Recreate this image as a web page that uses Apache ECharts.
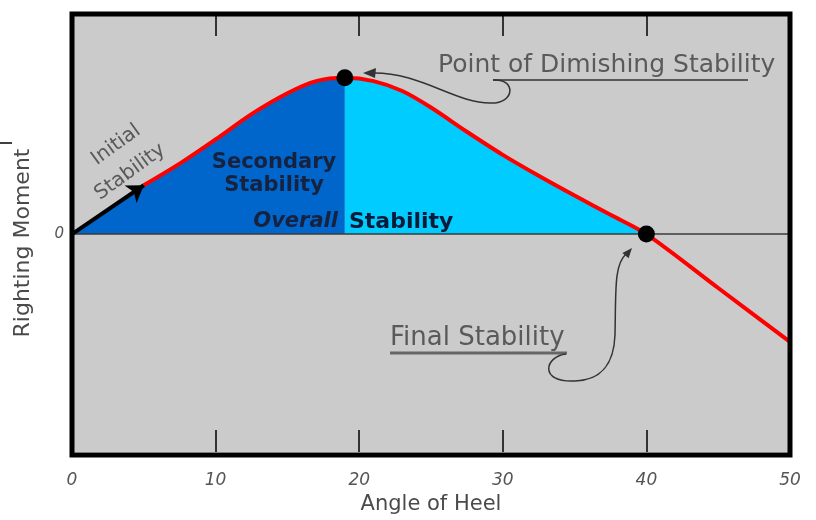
<!DOCTYPE html>
<html>
<head>
<meta charset="utf-8">
<script src="https://cdn.jsdelivr.net/npm/echarts@6/dist/echarts.min.js"></script>
<style>
  html, body { margin: 0; padding: 0; background: #fff; }
  #chart { width: 816px; height: 520px; }
</style>
</head>
<body>
<div id="chart"></div>
<script>
// angle of heel (deg) and righting moment (relative units)
const angles  = [0, 2.5, 5, 7.5, 10, 12.5, 15, 17, 19, 21, 23, 25, 27.5, 30, 32.5, 35, 37.5, 40, 45, 50];
const moments = [0, 0.11, 0.222, 0.32, 0.43, 0.545, 0.64, 0.695, 0.71, 0.695, 0.65, 0.575, 0.465, 0.36, 0.265, 0.175, 0.088, 0, -0.245, -0.49];

const peakAngle = 19;      // point of diminishing stability
const vanishAngle = 40;    // final stability
const initialEnd = 5;      // end of initial stability arrow

const xTickLabels = ['0', '10', '20', '30', '40', '50'];

const pairs = angles.map((a, i) => [a, moments[i]]);
const darkArea = pairs.filter(p => p[0] <= peakAngle);
const lightArea = pairs.filter(p => p[0] >= peakAngle && p[0] <= vanishAngle);
const redCurve = pairs.filter(p => p[0] >= initialEnd);
const keyPoints = pairs.filter(p => p[0] === peakAngle || p[0] === vanishAngle);
const arrowFrom = pairs[0];
const arrowTo = pairs.find(p => p[0] === initialEnd);

const chart = echarts.init(document.getElementById('chart'));

const annoColor = '#5a5a5a';
const annoFont = 'DejaVu Sans';
const smoothness = 0.3;

const option = {
    animation: false,
    grid: {
        left: 72, right: 26, top: 14, bottom: 65,
        show: true,
        backgroundColor: '#cbcbcb',
        borderWidth: 0
    },
    xAxis: [
        {
            type: 'value', min: 0, max: 50, interval: 10,
            position: 'bottom',
            axisLine: { show: false, onZero: false },
            axisTick: { show: true, inside: true, length: 22, lineStyle: { color: '#333', width: 2 } },
            splitLine: { show: false },
            axisLabel: {
                color: '#555', fontSize: 17, fontStyle: 'italic', fontFamily: annoFont, margin: 20,
                formatter: v => xTickLabels[Math.round(v / 10)]
            },
            name: 'Angle of Heel',
            nameLocation: 'middle',
            nameGap: 42,
            nameTextStyle: { color: '#4a4a4a', fontSize: 21, fontFamily: annoFont }
        },
        {
            type: 'value', min: 0, max: 50, interval: 10,
            position: 'top',
            axisLine: { show: false, onZero: false },
            axisTick: { show: true, inside: true, length: 22, lineStyle: { color: '#333', width: 2 } },
            splitLine: { show: false },
            axisLabel: { show: false }
        }
    ],
    yAxis: {
        type: 'value', min: -0.99, max: 1,
        axisLine: { show: false },
        axisTick: { show: false },
        splitLine: { show: false },
        axisLabel: {
            color: '#555', fontSize: 15, fontStyle: 'italic', fontFamily: annoFont, margin: 8,
            formatter: v => (v === 0 ? '0' : '')
        },
        name: 'Righting Moment',
        nameLocation: 'middle',
        nameGap: 38,
        nameTextStyle: { color: '#4a4a4a', fontSize: 22, fontFamily: annoFont, padding: [0, 20, 0, 0] }
    },
    series: [
        {
            name: 'Secondary', type: 'line', data: darkArea, smooth: smoothness,
            symbol: 'none', lineStyle: { width: 0 },
            areaStyle: { color: '#0066cc', opacity: 1 }, z: 2
        },
        {
            name: 'Overall', type: 'line', data: lightArea, smooth: smoothness,
            symbol: 'none', lineStyle: { width: 0 },
            areaStyle: { color: '#00ccff', opacity: 1 }, z: 2,
            markLine: {
                silent: true, symbol: 'none', label: { show: false },
                lineStyle: { color: '#3a3a3a', width: 1.5, type: 'solid' },
                data: [{ yAxis: 0 }]
            }
        },
        {
            name: 'Righting arm', type: 'line', data: redCurve, smooth: smoothness,
            symbol: 'none', lineStyle: { color: '#ff0000', width: 4 }, z: 4
        },
        {
            name: 'Initial', type: 'line', data: [], z: 5,
            markLine: {
                silent: true, symbol: ['none', 'arrow'], symbolSize: 16, label: { show: false },
                lineStyle: { color: '#000', width: 4, type: 'solid' },
                data: [[{ coord: arrowFrom }, { coord: arrowTo }]]
            }
        },
        {
            name: 'Key points', type: 'scatter', data: keyPoints,
            symbolSize: 17, itemStyle: { color: '#000', opacity: 1 }, z: 6
        }
    ],
    graphic: [
        // frame
        { type: 'rect', z: 100, shape: { x: 72, y: 14, width: 718, height: 441 },
          style: { fill: 'none', stroke: '#000', lineWidth: 5 } },
        { type: 'line', shape: { x1: 0, y1: 143, x2: 12, y2: 143 }, style: { stroke: '#000', lineWidth: 1.5 } },

        // initial stability
        { type: 'text', x: 116, y: 145, rotation: 36 * Math.PI / 180, z: 50,
          style: { text: 'Initial', fill: annoColor, font: '20px "DejaVu Sans"', align: 'center', verticalAlign: 'middle' } },
        { type: 'text', x: 130, y: 172, rotation: 36 * Math.PI / 180, z: 50,
          style: { text: 'Stability', fill: annoColor, font: '20px "DejaVu Sans"', align: 'center', verticalAlign: 'middle' } },

        // secondary / overall
        { type: 'text', x: 274, y: 174, z: 50,
          style: { text: 'Secondary\nStability', fill: '#17223f', font: 'bold 21px "DejaVu Sans"', lineHeight: 23,
                   align: 'center', verticalAlign: 'middle' } },
        { type: 'text', x: 338, y: 222, z: 50,
          style: { text: 'Overall', fill: '#17223f', font: 'italic bold 21px "DejaVu Sans"',
                   align: 'right', verticalAlign: 'middle' } },
        { type: 'text', x: 349, y: 222, z: 50,
          style: { text: 'Stability', fill: '#0c1a3a', font: 'bold 22px "DejaVu Sans"',
                   align: 'left', verticalAlign: 'middle' } },

        // point of diminishing stability
        { type: 'text', x: 438, y: 65, z: 50,
          style: { text: 'Point of Dimishing Stability', fill: annoColor, font: '25px "DejaVu Sans"',
                   align: 'left', verticalAlign: 'middle' } },
        { type: 'line', z: 50, shape: { x1: 493, y1: 80, x2: 748, y2: 80 }, style: { stroke: '#333', lineWidth: 1.5 } },
        { type: 'bezierCurve', z: 50, shape: { x1: 493, y1: 80, cpx1: 516, cpy1: 78, cpx2: 516, cpy2: 104, x2: 490, y2: 103 },
          style: { stroke: '#333', lineWidth: 1.5, fill: 'none' } },
        { type: 'bezierCurve', z: 50, shape: { x1: 490, y1: 103, cpx1: 455, cpy1: 103, cpx2: 420, cpy2: 72, x2: 372, y2: 73 },
          style: { stroke: '#333', lineWidth: 1.5, fill: 'none' } },
        { type: 'polygon', z: 50, shape: { points: [[363, 73], [376, 68], [375, 78]] }, style: { fill: '#333' } },

        // final stability
        { type: 'text', x: 390, y: 338, z: 50,
          style: { text: 'Final Stability', fill: annoColor, font: '26px "DejaVu Sans"',
                   align: 'left', verticalAlign: 'middle' } },
        { type: 'line', z: 50, shape: { x1: 390, y1: 353, x2: 567, y2: 353 }, style: { stroke: '#666', lineWidth: 3 } },
        { type: 'bezierCurve', z: 50, shape: { x1: 566, y1: 354, cpx1: 545, cpy1: 356, cpx2: 538, cpy2: 383, x2: 575, y2: 381 },
          style: { stroke: '#333', lineWidth: 1.5, fill: 'none' } },
        { type: 'bezierCurve', z: 50, shape: { x1: 575, y1: 381, cpx1: 605, cpy1: 380, cpx2: 614, cpy2: 360, x2: 615, y2: 335 },
          style: { stroke: '#333', lineWidth: 1.5, fill: 'none' } },
        { type: 'bezierCurve', z: 50, shape: { x1: 615, y1: 335, cpx1: 616, cpy1: 290, cpx2: 614, cpy2: 265, x2: 626, y2: 254 },
          style: { stroke: '#333', lineWidth: 1.5, fill: 'none' } },
        { type: 'polygon', z: 50, shape: { points: [[632, 248], [628.6, 258.2], [622.4, 253]] }, style: { fill: '#333' } }
    ]
};

chart.setOption(option);
</script>
</body>
</html>
